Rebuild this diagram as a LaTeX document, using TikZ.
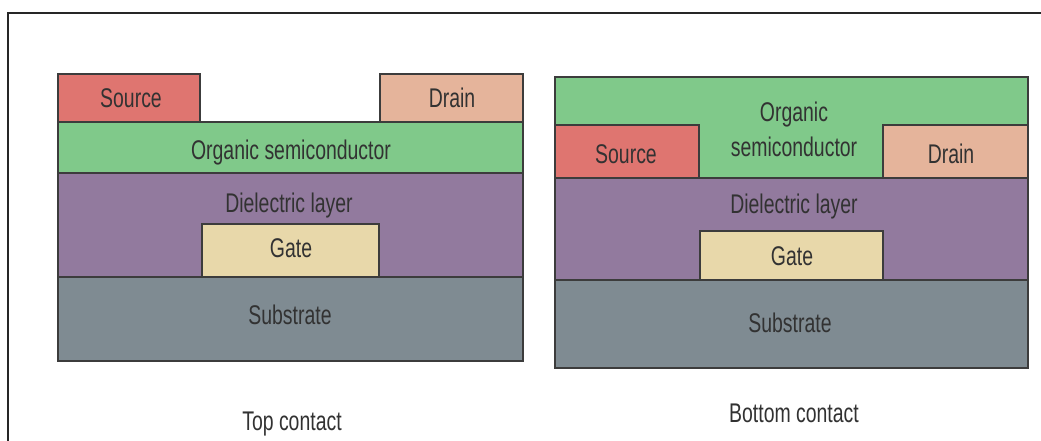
\documentclass[tikz,border=0pt]{standalone}
\usepackage{fontspec}
\newfontfamily\lblfont{Liberation Sans}[FakeStretch=0.72]
\definecolor{srcC}{RGB}{223,117,112}
\definecolor{drnC}{RGB}{229,180,155}
\definecolor{oscC}{RGB}{128,201,138}
\definecolor{dieC}{RGB}{146,122,158}
\definecolor{gateC}{RGB}{232,216,170}
\definecolor{subC}{RGB}{127,139,146}
\definecolor{edgeC}{RGB}{60,60,60}
\definecolor{txtC}{RGB}{50,50,50}
\tikzset{
  layer/.style={draw=edgeC, line width=1.5pt, line join=miter},
  lbl/.style={anchor=base, inner sep=0pt, text=txtC,
    font=\lblfont\fontsize{27}{35}\selectfont},
  frameline/.style={draw=black!85, line width=2pt}
}
\begin{document}
\begin{tikzpicture}[x=1pt, y=-1pt]
\useasboundingbox (0,0) rectangle (1041,441);
% outer frame (top and left edges)
\draw[frameline] (8,441) -- (8,13) -- (1041,13);

% ---------- top contact ----------
\filldraw[layer, fill=subC]  (58,277) rectangle (523,361);
\filldraw[layer, fill=dieC]  (58,173) rectangle (523,277);
\filldraw[layer, fill=gateC] (202,224) rectangle (379,277);
\filldraw[layer, fill=oscC]  (58,122) rectangle (523,173);
\filldraw[layer, fill=srcC]  (58,74) rectangle (200,122);
\filldraw[layer, fill=drnC]  (380,74) rectangle (523,122);

\node[lbl] (tcSource) at (131,108) {Source};
\node[lbl] (tcDrain)  at (452,108) {Drain};
\node[lbl] (tcOsc)    at (291,160) {Organic semiconductor};
\node[lbl] (tcDiel)   at (289,212) {Dielectric layer};
\node[lbl] (tcGate)   at (291,257) {Gate};
\node[lbl] (tcSub)    at (290,324) {Substrate};
\node[lbl] (tcTitle)  at (292,430) {Top contact};

% ---------- bottom contact ----------
\filldraw[layer, fill=subC]  (555,280) rectangle (1028,368);
\filldraw[layer, fill=dieC]  (555,178) rectangle (1028,280);
\filldraw[layer, fill=gateC] (700,231) rectangle (883,280);
\filldraw[layer, fill=oscC]  (555,77) rectangle (1028,178);
\filldraw[layer, fill=srcC]  (555,125) rectangle (699,178);
\filldraw[layer, fill=drnC]  (883,125) rectangle (1028,178);

\node[lbl] (bcOscA)   at (794,122) {Organic};
\node[lbl] (bcOscB)   at (794,157) {semiconductor};
\node[lbl] (bcSource) at (626,163) {Source};
\node[lbl] (bcDrain)  at (951,163) {Drain};
\node[lbl] (bcDiel)   at (794,213) {Dielectric layer};
\node[lbl] (bcGate)   at (792,265) {Gate};
\node[lbl] (bcSub)    at (790,332) {Substrate};
\node[lbl] (bcTitle)  at (794,422) {Bottom contact};
\end{tikzpicture}
\end{document}
